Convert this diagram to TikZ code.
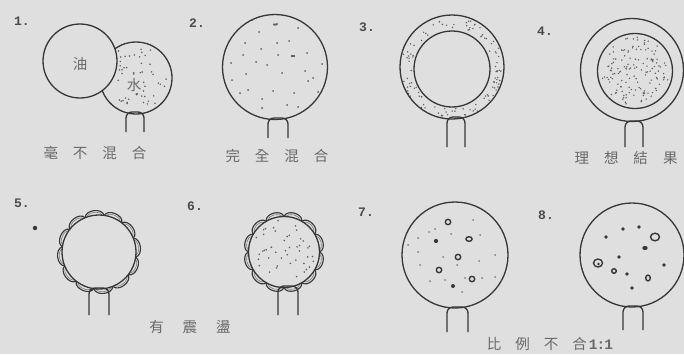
\documentclass[tikz,border=0pt]{standalone}
\usepackage{fontspec}
\newfontfamily\cjk{Noto Sans CJK TC}
\newfontfamily\numfont{Liberation Mono}
\definecolor{paper}{RGB}{222,223,222}
\definecolor{ink}{RGB}{55,55,55}
\definecolor{speck}{RGB}{95,95,95}
\definecolor{label}{RGB}{105,105,105}
\tikzset{
  outline/.style={draw=ink, line width=1.3pt},
  stemline/.style={draw=ink, line width=1.3pt, rounded corners=6pt},
  num/.style={font=\numfont\bfseries\fontsize{13}{13}\selectfont, text=ink!90, inner sep=0pt},
  caption/.style={font=\cjk\fontsize{14.5}{14.5}\selectfont, text=label, inner sep=0pt},
  speckle/.style={fill=speck},
  scallop/.style={draw=ink, line width=1.1pt},
  scallopin/.style={draw=ink!65, line width=0.6pt},
  drop/.style={draw=ink, line width=1.4pt},
  blob/.style={fill=ink},
  grain/.style={fill=speck!80},
}
% inverted-U stand under a flask: #1,#2 = x of legs, #3 = top, #4 = foot
\newcommand\flaskstand[4]{\draw[stemline] (#1,#4) -- (#1,#3) -- (#2,#3) -- (#2,#4);}
% scalloped rim of 12 lobes round a circle: #1 centre, #2 radius, #3 lobe height, #4 offset angle
\newcommand\lobes[4]{%
  \foreach \k in {0,...,11}{%
    \pgfmathsetmacro\aa{\k*30+#4}%
    \pgfmathsetmacro\ab{\aa+30}%
    \draw[scallop,shift={#1}] (\aa:#2) .. controls (\aa+4:#2+#3) and (\ab-4:#2+#3) .. (\ab:#2);
    \draw[scallopin,shift={#1}] (\aa+3:#2) .. controls (\aa+7:#2+#3-3) and (\ab-7:#2+#3-3) .. (\ab-3:#2);
  }}
\newcommand\gap{\hspace{12pt}}
\begin{document}
\begin{tikzpicture}[x=1pt,y=-1pt]
\fill[paper] (0,0) rectangle (684,354);
\useasboundingbox (0,0) rectangle (684,354);

% ---------- 1: oil and water kept apart ----------
\node[num] (n1) at (22,21) {1.};
\coordinate (w1) at (136,78);
\coordinate (o1) at (80,61);
\pgfmathsetseed{11}
\foreach \i in {1,...,60}{
  \pgfmathsetmacro\ang{360*rnd}\pgfmathsetmacro\rad{33*sqrt(rnd)}
  \fill[speckle,shift={(w1)}] (\ang:\rad) circle (0.85pt);
}
\draw[outline] (w1) circle (36pt);
\fill[paper] (o1) circle (37pt);
\draw[outline] (o1) circle (37pt);
\node[caption] (oil) at (80,64) {油};
\node[caption,fill=paper,inner sep=1pt] (water) at (134,85) {水};
\flaskstand{126}{144}{112}{132}
\node[caption] (c1) at (95,153) {毫\gap\hspace{3pt}不\gap\hspace{3pt}混\gap\hspace{3pt}合};

% ---------- 2: fully mixed ----------
\node[num] (n2) at (197,23) {2.};
\coordinate (f2) at (275,67);
\foreach \p in {(277,24),(259,32),(298,28),(245,43),(277,43),(289,41),(261,49),(307,53),
  (243,55),(278,55),(231,63),(267,65),(322,64),(246,74),(282,73),(305,71),(313,78),
  (308,81),(248,90),(240,93),(273,91),(294,93),(262,99),(287,105),(298,107),(262,108),
  (252,20),(232,80),(318,92),(256,62)}
  \fill[speckle] \p circle (1pt);
\fill[speckle] (275,24.5) ellipse (2.2pt and 1.1pt);
\fill[speckle] (293,56) ellipse (2.2pt and 1.1pt);
\draw[outline] (f2) circle (52.5pt);
\flaskstand{268}{288}{118}{138}
\node[caption] (c2) at (277,156) {完\gap\hspace{3pt}全\gap\hspace{3pt}混\gap\hspace{3pt}合};

% ---------- 3: water as a shell round the oil ----------
\node[num] (n3) at (367,27) {3.};
\coordinate (f3) at (452,67);
\coordinate (k3) at (452,69);
\pgfmathsetseed{23}
\foreach \i in {1,...,110}{
  \pgfmathsetmacro\ang{360*rnd}\pgfmathsetmacro\rad{40.5+10*rnd}
  \fill[speckle,shift={(452,68)}] (\ang:\rad) circle (0.8pt);
}
\draw[outline] (f3) circle (52pt);
\draw[outline] (k3) circle (38pt);
\flaskstand{447}{465}{117}{147}

% ---------- 4: the ideal result ----------
\node[num] (n4) at (545,31) {4.};
\coordinate (f4) at (632,70);
\coordinate (k4) at (635,71);
\pgfmathsetseed{37}
\foreach \i in {1,...,140}{
  \pgfmathsetmacro\ang{360*rnd}\pgfmathsetmacro\rad{34*sqrt(rnd)}
  \fill[speckle,shift={(k4)}] (\ang:\rad) circle (0.8pt);
}
\draw[outline] (f4) circle (51.5pt);
\draw[outline] (k4) circle (37.5pt);
\flaskstand{625}{643}{121}{147}
\node[caption] (c4) at (626,158) {理\gap\hspace{3pt}想\gap\hspace{3pt}結\gap\hspace{3pt}果};

% ---------- 5: bare flask with a wavy rim ----------
\node[num] (n5) at (22,203) {5.};
\fill[ink] (35,228) circle (2.2pt);
\coordinate (f5) at (99,252);
\lobes{(f5)}{37}{7.5}{8}
\draw[outline] (f5) circle (37pt);
\flaskstand{89}{109}{288}{315}

% ---------- 6: speckled flask with a wavy rim ----------
\node[num] (n6) at (195,206) {6.};
\coordinate (f6) at (284,252);
\pgfmathsetseed{51}
\foreach \i in {1,...,45}{
  \pgfmathsetmacro\ang{360*rnd}\pgfmathsetmacro\rad{32*sqrt(rnd)}
  \fill[speckle,shift={(f6)}] (\ang:\rad) circle (0.9pt);
}
\lobes{(f6)}{35.5}{7.5}{0}
\draw[outline] (f6) circle (35.5pt);
\flaskstand{278}{298}{286}{315}
\node[caption] (c56) at (190,327) {有\gap\hspace{7pt}震\gap\hspace{7pt}盪};

% ---------- 7: drops and grains ----------
\node[num] (n7) at (366,212) {7.};
\coordinate (f7) at (455,255);
\foreach \p in {(448,222),(458,257),(439,270),(472,279)}
  \draw[drop] \p circle (2.7pt);
\draw[drop] (469,239) ellipse (3.1pt and 2.3pt);
\fill[blob] (436,241) circle (2.1pt);
\fill[blob] (453,286) circle (2pt);
\foreach \p in {(473,220),(429,232),(451,234),(480,235),(418,238),(418,252),(443,257),
  (479,261),(495,255),(420,265),(457,265),(465,278),(482,278),(495,277),(430,281),
  (445,280),(462,292),(408,245),(435,229)}
  \fill[grain] \p circle (1pt);
\draw[outline] (f7) circle (53pt);
\flaskstand{447}{468}{307}{332}
\node[caption] (c78) at (550,344) {比\gap\hspace{2pt}例\gap\hspace{2pt}不\gap\hspace{2pt}合\hspace{2pt}{\numfont\bfseries\fontsize{14.5}{14.5}\selectfont 1\hspace{-1pt}:\hspace{-1pt}1}};

% ---------- 8: mixed drops ----------
\node[num] (n8) at (546,215) {8.};
\coordinate (f8) at (632,255);
\draw[drop] (655,237) ellipse (4.5pt and 3.8pt);
\draw[drop] (598,263) ellipse (4.5pt and 4pt);
\fill[blob] (598.5,264) circle (1.3pt);
\draw[drop] (614,271) circle (2.3pt);
\draw[drop] (648,278) ellipse (2.3pt and 2.9pt);
\fill[blob] (645,248) ellipse (2.7pt and 2.1pt);
\foreach \p in {(623,229),(639,227),(606,237),(619,257),(664,265),(627,274),(632,288)}
  \fill[blob] \p circle (1.8pt);
\draw[outline] (f8) circle (52pt);
\flaskstand{623}{643}{306}{330}
\end{tikzpicture}
\end{document}
